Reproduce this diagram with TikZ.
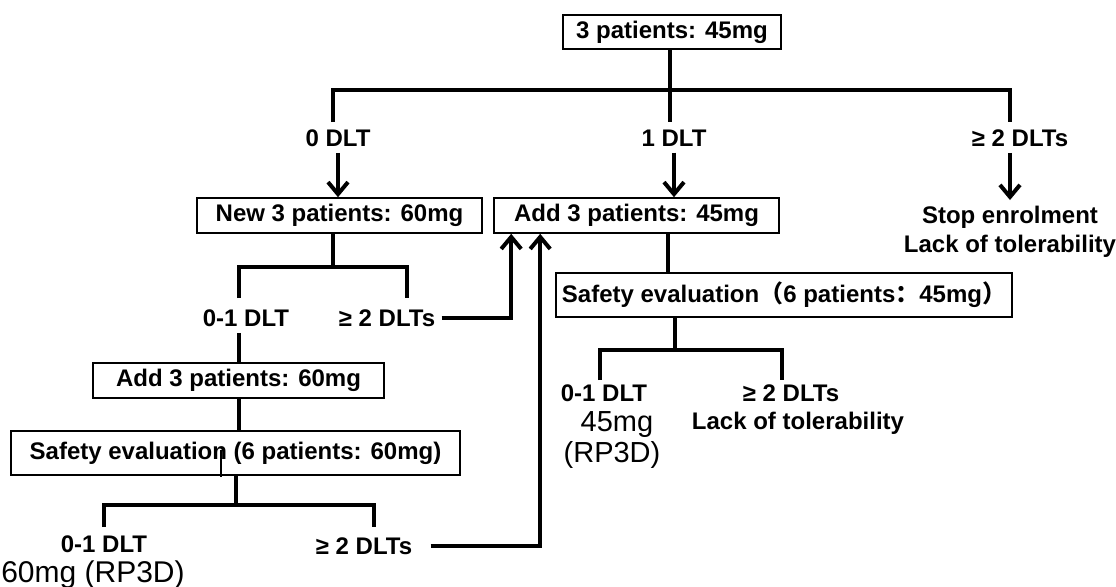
\documentclass[tikz,border=0pt]{standalone}
\usepackage{fontspec}
\setmainfont{Liberation Sans}
\newfontfamily\cjk{Noto Sans CJK SC}
\usetikzlibrary{arrows.meta,positioning,calc}

\begin{document}
\begin{tikzpicture}[x=0.5pt,y=-0.5pt,
box/.style={draw,line width=0.8pt,inner sep=0pt,font=\bfseries\fontsize{12}{14.4}\selectfont},
lbl/.style={inner sep=3pt,font=\bfseries\fontsize{12}{14.4}\selectfont},
dose/.style={inner sep=1pt,font=\fontsize{14.5}{17}\selectfont},
tree/.style={line width=2pt},
arr/.style={line width=2pt,-{Straight Barb[length=6pt,width=10pt]}}]
\useasboundingbox (0,0) rectangle (1116,586);
\node[box,minimum width=109pt,minimum height=17pt] (start) at (672,32) {3 patients: 45mg};
\node[lbl] (d0) at (338,138) {0 DLT};
\node[lbl] (d1) at (674,138) {1 DLT};
\node[lbl] (d2) at (1020,138) {≥ 2 DLTs};
\node[box,minimum width=142.5pt,minimum height=17.5pt] (new60) at (339.5,215.5) {New 3 patients: 60mg};
\node[box,minimum width=142.5pt,minimum height=17.5pt] (add45) at (636.5,215.5) {Add 3 patients: 45mg};
\node[lbl,align=center] (stop) at (1010,232) {Stop enrolment\\Lack of tolerability};
\node[lbl] (l01a) at (246,318) {0-1 DLT};
\node[lbl] (l2a) at (387,318) {≥ 2 DLTs};
\node[box,minimum width=228pt,minimum height=22pt] (safe45) at (784,295)
  {Safety evaluation{\cjk （}6 patients{\cjk ：}45mg{\cjk ）}};
\node[box,minimum width=145.5pt,minimum height=17.5pt] (add60) at (238.5,380.5) {Add 3 patients: 60mg};
\node[lbl] (l01b) at (604,393) {0-1 DLT};
\node[lbl] (l2b) at (791,393) {≥ 2 DLTs};
\node[dose] (mg45) at (617,425) {45mg};
\node[dose] (rp45) at (612,455) {(RP3D)};
\node[lbl] (lack45) at (798,423) {Lack of tolerability};
\node[box,minimum width=224.5pt,minimum height=22pt] (safe60) at (235.5,453) {Safety evaluation (6 patients: 60mg)};
\node[lbl] (l01c) at (104,544) {0-1 DLT};
\node[lbl] (l2c) at (364,546) {≥ 2 DLTs};
\node[dose,font=\fontsize{15}{17}\selectfont] (rp60) at (93,575) {60mg (RP3D)};

\coordinate (t0) at (333,122);
\coordinate (t1) at (670,90);
\coordinate (t2) at (1010,122);
\coordinate (n1) at (333,267);
\coordinate (na) at (239,298);
\coordinate (nb) at (407,298);
\coordinate (a1) at (668,273);
\coordinate (r1) at (675,350);
\coordinate (ra) at (600,380);
\coordinate (rb) at (782,380);
\coordinate (s1) at (236,505);
\coordinate (sa) at (104,527);
\coordinate (sb) at (374,527);

\draw[tree] (start.south -| t1) -- (t1 |- t0);
\draw[tree] (t0) |- (t1) -| (t2);
\draw[arr] (d0.south) -- (d0.south |- new60.north);
\draw[arr] (d1.south) -- (d1.south |- add45.north);
\draw[arr] (d2.south -| t2) -- (t2 |- stop.north);

\draw[tree] (new60.south -| n1) -- (n1);
\draw[tree] (na) |- (n1) -| (nb);
\draw[arr] (l2a.east) -| ([xshift=9pt]add45.south west);
\draw[tree] (l01a.south -| na) -- (na |- add60.north);
\draw[tree] (add60.south) -- (add60.south |- safe60.north);

\draw[tree] (add45.south -| a1) -- (a1);
\draw[tree] (safe45.south -| r1) -- (r1);
\draw[tree] (ra) |- (r1) -| (rb);

\draw[tree] (safe60.south -| s1) -- (s1);
\draw[tree] (sa) |- (s1) -| (sb);
\draw[arr,shorten <=6pt] (l2c.east) -| ([xshift=23.5pt]add45.south west);
\draw[line width=0.6pt] (221,450) -- (221,477);
\end{tikzpicture}
\end{document}
